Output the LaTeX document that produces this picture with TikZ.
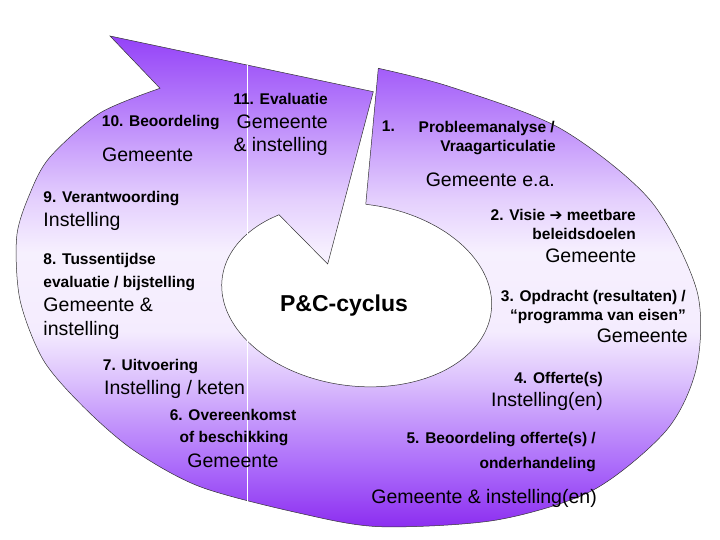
\documentclass[tikz,border=0pt]{standalone}
\usepackage{fontspec}
\setmainfont{Liberation Sans}
\newfontfamily\pijlfont{DejaVu Sans}
\definecolor{pcpaars}{HTML}{9442F8}
\definecolor{pcdonker}{HTML}{8C2DF0}
\pgfdeclareverticalshading{pcverloop}{100bp}{color(0bp)=(pcdonker); color(25bp)=(pcdonker);
  color(30.8bp)=(pcpaars!80!white); color(35.9bp)=(pcpaars!55!white);
  color(40bp)=(pcpaars!33!white); color(45bp)=(pcpaars!10!white);
  color(53bp)=(pcpaars!8!white); color(58.3bp)=(pcpaars!25!white);
  color(63.4bp)=(pcpaars!48!white); color(68.5bp)=(pcpaars!72!white);
  color(75bp)=(pcpaars); color(100bp)=(pcpaars)}
\begin{document}
\begin{tikzpicture}[x=1bp,y=-1bp,
    stap/.style={font=\bfseries\fontsize{15.5bp}{18bp}\selectfont,inner sep=0pt},
    partij/.style={font=\fontsize{19.5bp}{22bp}\selectfont,inner sep=0pt}]
  \useasboundingbox (0,0) rectangle (720,540);
  % cyclus-pijl
  \path[draw=black!80,line width=0.5bp,shading=pcverloop]
    plot[smooth] coordinates {(378.3,68.3) (450,86.7) (560,128.3) (650,200) (696.7,290)
      (696.7,366.7) (666.7,430) (593.3,490) (496.7,520) (380,526.7) (300,513.3)
      (200,486.7) (133.3,450) (83.3,406.7) (43.3,360) (20,300) (16.7,236.7)
      (30,193.3) (50,157) (100,113) (160,88.3)}
    -- (110,36) -- (373.3,91.7) -- (327.7,264)
    -- plot[smooth,domain=230:-91,samples=60,variable=\t]
      ({356.7+135.6*cos(\t)*0.992-91.1*sin(\t)*0.1253},
       {294.9+135.6*cos(\t)*0.1253+91.1*sin(\t)*0.992})
    -- cycle;
  \draw[white,line width=0.8bp] (247,65) -- (247,501.7);
  \node[font=\bfseries\fontsize{23bp}{26bp}\selectfont] (pc) at (344,306) {P\&C-cyclus};
  % stap 1
  \node[stap,anchor=base west] (st1nr) at (381.7,132) {1.};
  \node[stap,anchor=base east] (st1a) at (555,132.5) {Probleemanalyse /};
  \node[stap,anchor=base east] (st1b) at (556,151.5) {Vraagarticulatie};
  \node[partij,anchor=base east] (p1) at (555,186.5) {Gemeente e.a.};
  % stap 2
  \node[stap,anchor=base east] (st2a) at (636,220.7) {2. Visie {\pijlfont\bfseries ➔} meetbare};
  \node[stap,anchor=base east] (st2b) at (636,239.3) {beleidsdoelen};
  \node[partij,anchor=base east] (p2) at (636.5,263) {Gemeente};
  % stap 3
  \node[stap,anchor=base east] (st3a) at (686,301.7) {3. Opdracht (resultaten) /};
  \node[stap,anchor=base east] (st3b) at (686,320) {“programma van eisen”};
  \node[partij,anchor=base east] (p3) at (688,342.5) {Gemeente};
  % stap 4
  \node[stap,anchor=base east] (st4) at (603,383.3) {4. Offerte(s)};
  \node[partij,anchor=base east] (p4) at (603,406.5) {Instelling(en)};
  % stap 5
  \node[stap,anchor=base east] (st5a) at (596,443.3) {5. Beoordeling offerte(s) /};
  \node[stap,anchor=base east] (st5b) at (596,468.3) {onderhandeling};
  \node[partij,anchor=base east] (p5) at (597,503.8) {Gemeente \& instelling(en)};
  % stap 6
  \node[stap,anchor=base] (st6a) at (233,420) {6. Overeenkomst};
  \node[stap,anchor=base] (st6b) at (234,442.7) {of beschikking};
  \node[partij,anchor=base] (p6) at (233,467.5) {Gemeente};
  % stap 7
  \node[stap,anchor=base west] (st7) at (102.7,370) {7. Uitvoering};
  \node[partij,anchor=base west] (p7) at (104,394.8) {Instelling / keten};
  % stap 8
  \node[stap,anchor=base west] (st8a) at (43.3,265) {8. Tussentijdse};
  \node[stap,anchor=base west] (st8b) at (43.3,287.3) {evaluatie / bijstelling};
  \node[partij,anchor=base west] (p8a) at (43.3,311.5) {Gemeente \&};
  \node[partij,anchor=base west] (p8b) at (43.3,335.8) {instelling};
  % stap 9
  \node[stap,anchor=base west] (st9) at (43.3,202.3) {9. Verantwoording};
  \node[partij,anchor=base west] (p9) at (43.3,226.5) {Instelling};
  % stap 10
  \node[stap,anchor=base west] (st10) at (101.7,126.5) {10. Beoordeling};
  \node[partij,anchor=base west] (p10) at (102,161.5) {Gemeente};
  % stap 11
  \node[stap,anchor=base east] (st11) at (328,104.5) {11. Evaluatie};
  \node[partij,anchor=base east] (p11a) at (328,129) {Gemeente};
  \node[partij,anchor=base east] (p11b) at (328,152) {\& instelling};
\end{tikzpicture}
\end{document}
